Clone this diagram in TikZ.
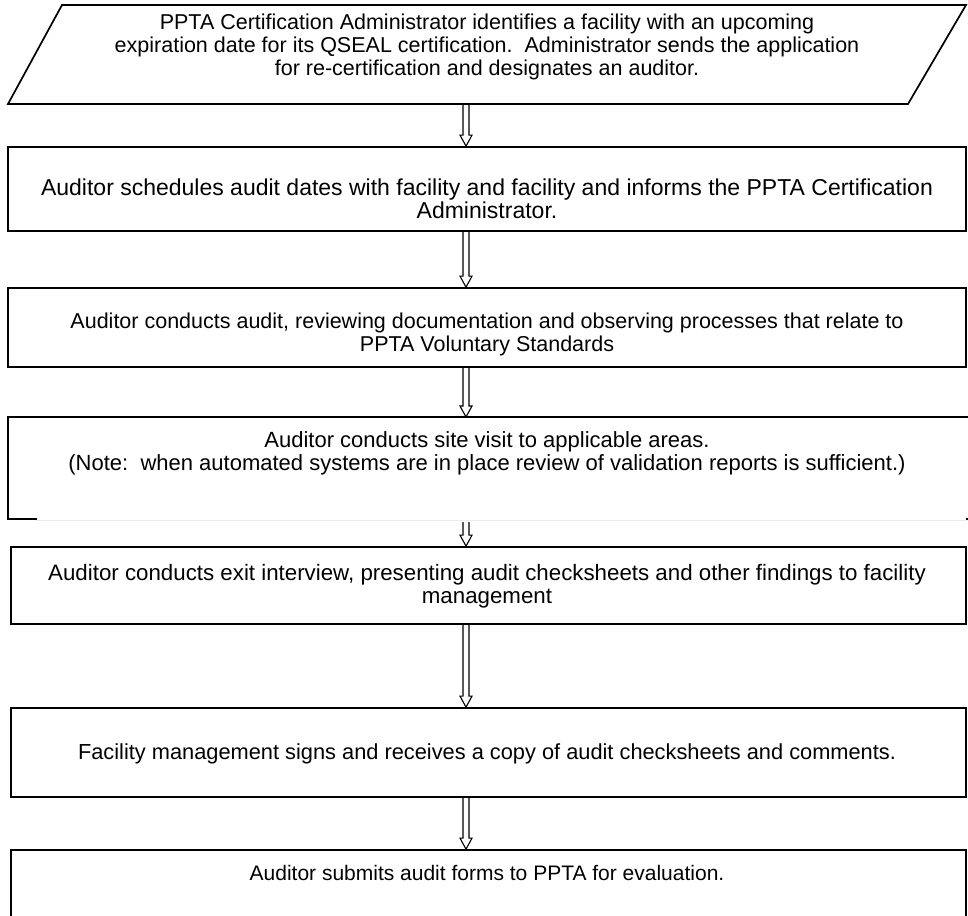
\documentclass[tikz,border=0pt]{standalone}
\usepackage{fontspec}
\setmainfont{Liberation Sans}
\usetikzlibrary{calc}
\begin{document}
\begin{tikzpicture}[x=1pt,y=-1pt,
  edge/.style={line width=1.7pt, line cap=rect},
  box/.style={draw, line width=1.7pt, inner sep=0pt},
  ghost/.style={inner sep=0pt, outer sep=0pt},
  txt/.style={align=center, font=\fontsize{21.5}{23}\selectfont, inner sep=0pt},
  fs/.style={font=\fontsize{#1}{23}\selectfont},
  blockarrow/.style={line width=1.1pt, miter limit=10,
    to path={let \p1=(\tikztostart), \p2=(\tikztotarget) in
      (\x1-3pt,\y1) -- (\x1-3pt,\y2+11pt) -- (\x1-6pt,\y2+11pt) -- (\x2,\y2)
      -- (\x1+6pt,\y2+11pt) -- (\x1+3pt,\y2+11pt) -- (\x1+3pt,\y1)}}]
\useasboundingbox (0,0) rectangle (968,915);
\clip (0,0) rectangle (968,915);
\coordinate (ax) at (466,0);

% start parallelogram
\draw[edge, line cap=butt, line join=miter] (62,5) -- (966,5) -- (908,104) -- (8,104) -- cycle;
\coordinate (p) at (487,104);
\node[txt] (t1) at (487,47) {PPTA Certification Administrator identifies a facility with an upcoming\\
expiration date for its QSEAL certification.\ \ Administrator sends the application\\
for re-certification and designates an auditor.};

% box 2
\node[box, minimum width=958pt, minimum height=84pt] (b2) at (487,189) {};
\node[txt, fs=23] (t2) at (487,199) {Auditor schedules audit dates with facility and facility and informs the PPTA Certification\\
Administrator.};

% box 3
\node[box, minimum width=958pt, minimum height=79pt] (b3) at (487,327.5) {};
\node[txt] (t3) at (487,334) {Auditor conducts audit, reviewing documentation and observing processes that relate to\\
PPTA Voluntary Standards};

% box 4 (partly outlined)
\node[ghost, minimum width=959pt, minimum height=102pt] (b4) at (487.5,468) {};
\draw[edge] (b4.south west) -- (b4.north west) -- (b4.north east);
\draw[edge] (b4.south west) -- ++(28,0);
\draw[line width=0.6pt, black!8] ($(b4.south west)+(28,1)$) -- ($(b4.south east)+(0,1)$);
\fill (b4.south east) ++(-1,-1) rectangle ++(2,2);
\node[txt, fs=22] (t4) at (487,453) {Auditor conducts site visit to applicable areas.\\
(Note:\ \ when automated systems are in place review of validation reports is sufficient.)};

% box 5
\node[box, minimum width=955pt, minimum height=77pt] (b5) at (488.5,585.5) {};
\node[txt, fs=22.3] (t5) at (487,586) {Auditor conducts exit interview, presenting audit checksheets and other findings to facility\\
management};

% box 6
\node[box, minimum width=955pt, minimum height=89pt] (b6) at (488.5,752.5) {};
\node[txt, fs=21.8] (t6) at (487,754) {Facility management signs and receives a copy of audit checksheets and comments.};

% box 7
\node[box, minimum width=955pt, minimum height=90pt] (b7) at (488.5,895) {};
\node[txt, fs=21] (t7) at (487,873) {Auditor submits audit forms to PPTA for evaluation.};

% connectors
\draw[blockarrow] (p -| ax) to (b2.north -| ax);
\draw[blockarrow] (b2.south -| ax) to (b3.north -| ax);
\draw[blockarrow] (b3.south -| ax) to (b4.north -| ax);
\draw[blockarrow] ($(b4.south -| ax)+(0,3)$) to (b5.north -| ax);
\draw[blockarrow] (b5.south -| ax) to (b6.north -| ax);
\draw[blockarrow] (b6.south -| ax) to (b7.north -| ax);
\end{tikzpicture}
\end{document}
